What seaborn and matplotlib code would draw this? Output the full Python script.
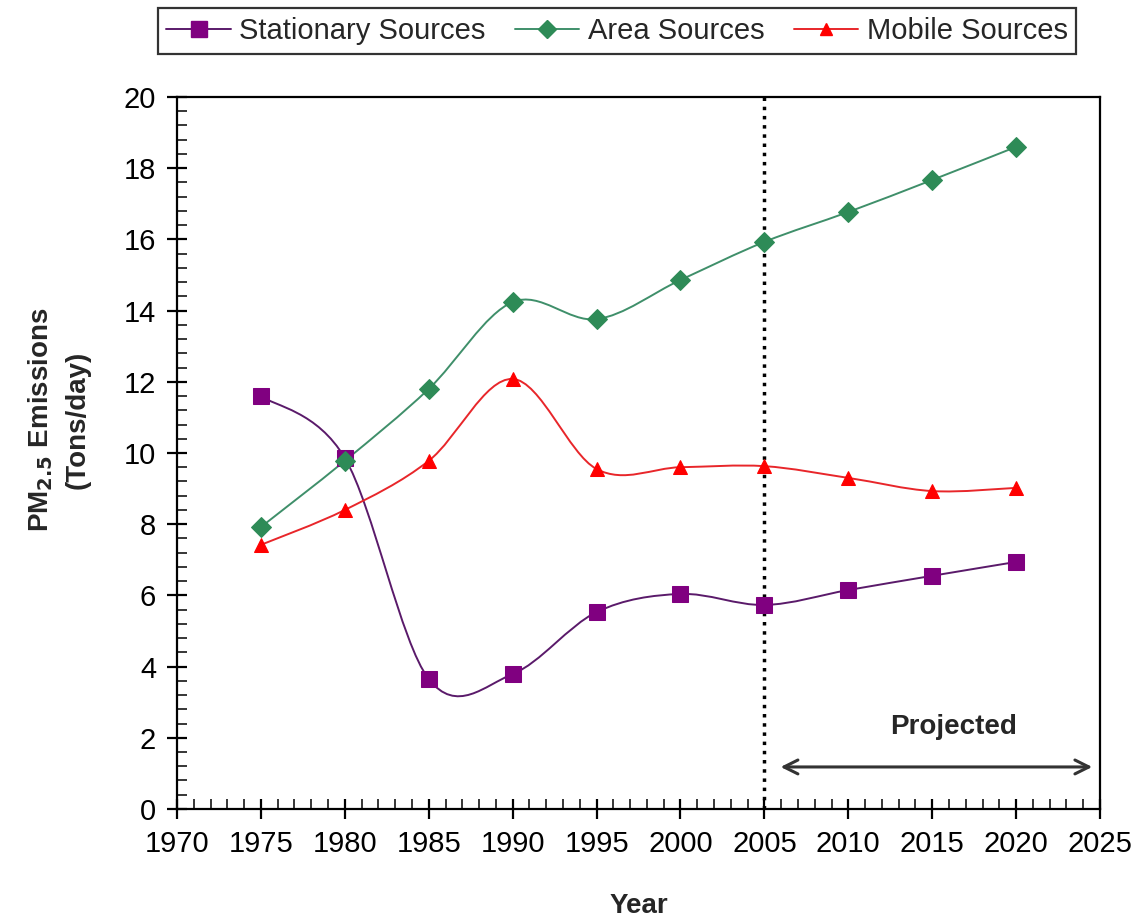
import numpy as np
import pandas as pd
import seaborn as sns
import matplotlib.pyplot as plt
from matplotlib.path import Path
from matplotlib.patches import PathPatch
from matplotlib.lines import Line2D
from matplotlib.ticker import MultipleLocator

sns.set_style('white')
plt.rcParams['font.family'] = ['Liberation Sans', 'DejaVu Sans']

"""=================================== DATA ===================================="""
years = [1975, 1980, 1985, 1990, 1995, 2000, 2005, 2010, 2015, 2020]
stationary = [11.6, 9.86, 3.65, 3.79, 5.53, 6.04, 5.73, 6.15, 6.55, 6.94]
area = [7.92, 9.78, 11.8, 14.24, 13.76, 14.86, 15.93, 16.77, 17.67, 18.6]
mobile = [7.42, 8.4, 9.78, 12.08, 9.55, 9.6, 9.63, 9.3, 8.93, 9.02]

series_names = ['Stationary Sources', 'Area Sources', 'Mobile Sources']
series_vals = [stationary, area, mobile]
colors = ['#800080', '#2E8B57', '#FF0000']
line_colors = ['#5a1a6a', '#3f8f6a', '#e8262a']
markers = ['s', 'D', '^']
msizes = [12, 10, 10]


def smooth_path(xs, ys):
    # excel-like smoothed line: cubic bezier through the points
    pts = np.column_stack([xs, ys]).astype(float)
    n = len(pts)
    verts = [pts[0]]
    codes = [Path.MOVETO]
    for i in range(n - 1):
        p0 = pts[i - 1] if i > 0 else pts[i]
        p1 = pts[i]
        p2 = pts[i + 1]
        p3 = pts[i + 2] if i + 2 < n else pts[i + 1]
        c1 = p1 + (p2 - p0) / 6.0
        c2 = p2 - (p3 - p1) / 6.0
        verts += [c1, c2, p2]
        codes += [Path.CURVE4] * 3
    return Path(verts, codes)


df = pd.DataFrame({'Year': years * 3,
                   'Value': stationary + area + mobile,
                   'Source': sum([[s] * len(years) for s in series_names], [])})

"""=================================== PLOT ===================================="""
f = plt.figure(figsize=(11.39, 9.24), dpi=100)
ax = f.add_axes([0.1554, 0.1245, 0.8104, 0.7705])

for name, vals, c, lc, m, ms in zip(series_names, series_vals, colors, line_colors, markers, msizes):
    ax.add_patch(PathPatch(smooth_path(years, vals), facecolor='none', edgecolor=lc, lw=1.4, zorder=2))
    sub = df[df['Source'] == name]
    sns.lineplot(data=sub, x='Year', y='Value', ax=ax, color=c, marker=m, markersize=ms,
                 markeredgecolor=c, linestyle='', legend=False, zorder=3)

# projection divider
ax.axvline(2005, color='black', linestyle=':', lw=2.5, zorder=1)
ax.annotate('', xy=(2024.7, 1.18), xytext=(2005.8, 1.18),
            arrowprops=dict(arrowstyle='<->', color='#333333', lw=2.2, mutation_scale=25))
ax.text(2016.3, 2.3, 'Projected', ha='center', va='center', fontsize=20, fontweight='bold')

"""=================================== AXES ===================================="""
ax.set_xlim(1970, 2025)
ax.set_ylim(0, 20)
ax.xaxis.set_major_locator(MultipleLocator(5))
ax.xaxis.set_minor_locator(MultipleLocator(1))
ax.yaxis.set_major_locator(MultipleLocator(2))
ax.yaxis.set_minor_locator(MultipleLocator(0.4))
ax.tick_params(which='major', direction='inout', length=14, width=1.6, labelsize=21, colors='black', pad=8)
ax.tick_params(which='minor', direction='in', length=7, width=1.3)
ax.tick_params(axis='x', which='both', bottom=True)
ax.tick_params(axis='y', which='both', left=True)
for s in ax.spines.values():
    s.set_color('black')
    s.set_linewidth(1.6)
ax.grid(False)

ax.set_xlabel('Year', fontsize=20, fontweight='bold', va='top')
ax.xaxis.set_label_coords(0.5, -0.118)
ax.set_ylabel('PM$_{\\mathbf{2.5}}$ Emissions\n(Tons/day)', fontsize=20, fontweight='bold',
              linespacing=1.45)
ax.yaxis.set_label_coords(-0.094, 0.546)

handles = [Line2D([], [], color=lc, lw=1.4, marker=m, markersize=ms - 1, markerfacecolor=c, markeredgecolor=c)
           for c, lc, m, ms in zip(colors, line_colors, markers, msizes)]
leg = f.legend(handles, series_names, loc='center', bbox_to_anchor=(617 / 1139, 1 - 31 / 924), ncol=3,
               fontsize=21, frameon=True, fancybox=False, edgecolor='black', handlelength=2.2,
               handletextpad=0.3, columnspacing=1.0, borderpad=0.3)
leg.get_frame().set_linewidth(1.6)

f.savefig('out.png', dpi=100)
